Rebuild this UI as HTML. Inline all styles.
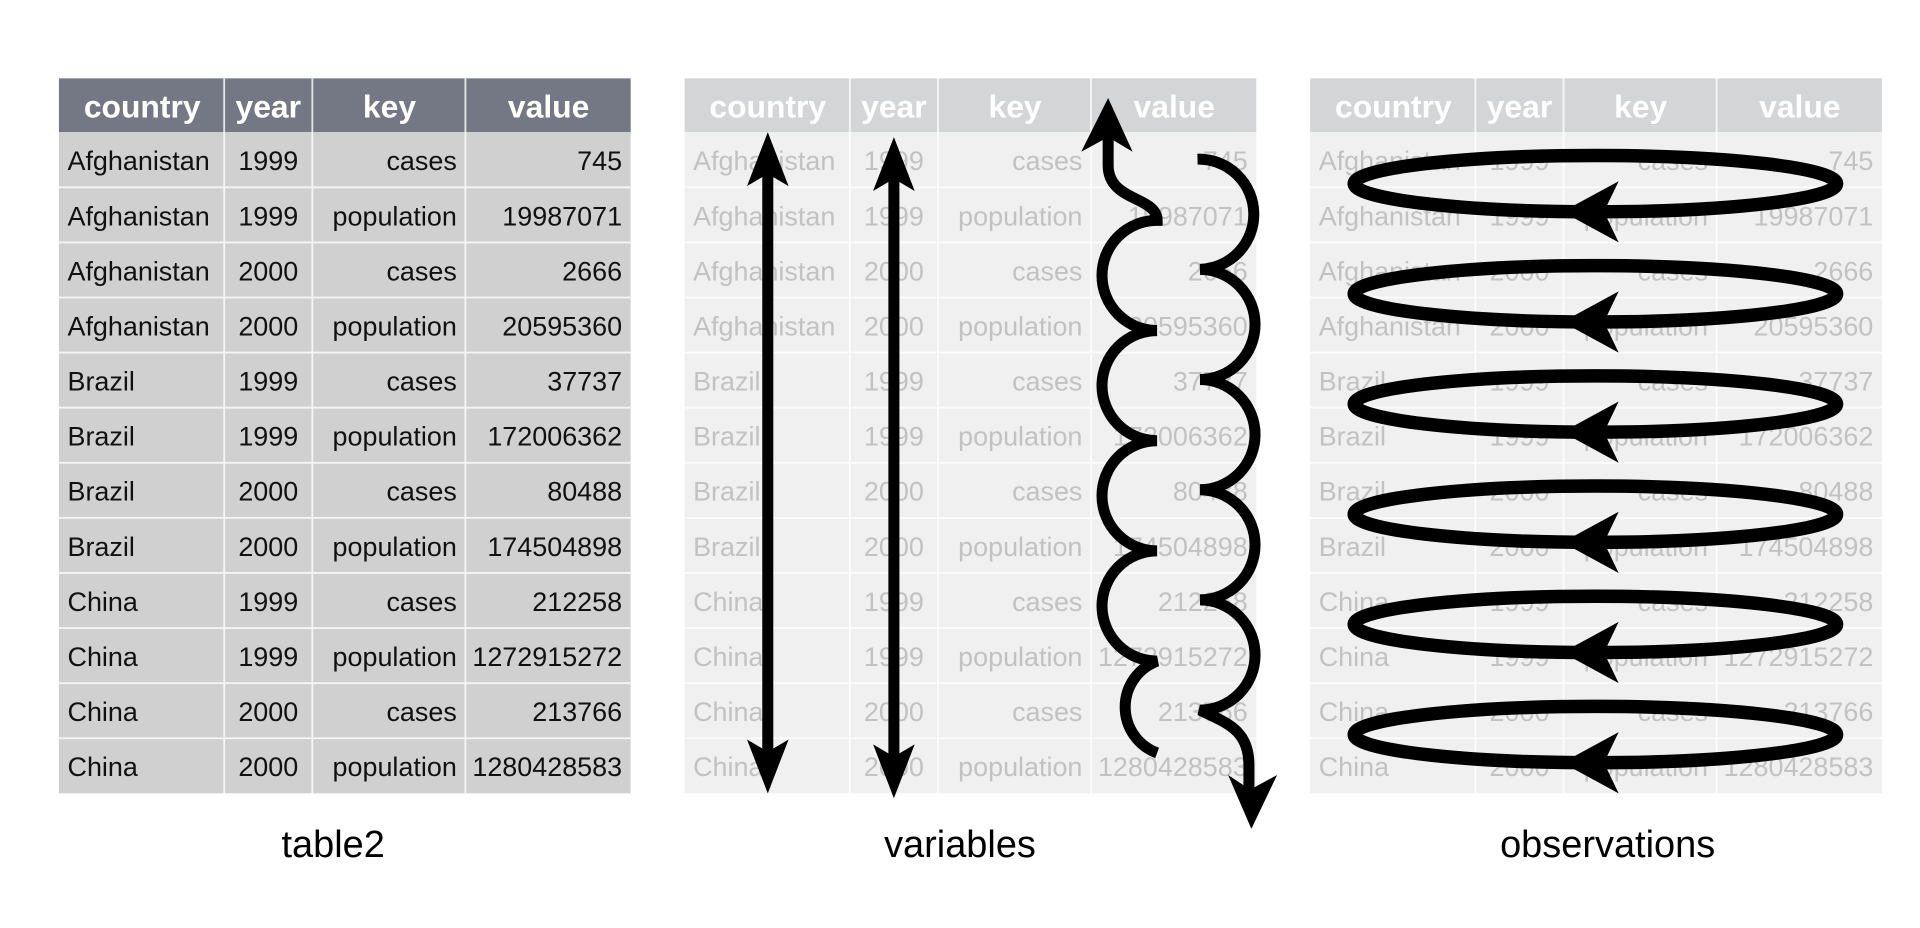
<!DOCTYPE html>
<html><head><meta charset="utf-8"><style>
html,body{margin:0;padding:0;background:#fff;width:1920px;height:928px;overflow:hidden}
svg{display:block}
text{font-family:"Liberation Sans",sans-serif}
</style></head><body>
<svg width="1920" height="928" viewBox="0 0 1568 758" xmlns="http://www.w3.org/2000/svg">
<rect x="48" y="64" width="467" height="44" fill="#737884"/>
<rect x="48" y="108" width="467" height="540" fill="#d0d0d0"/>
<rect x="559" y="64" width="467" height="44" fill="#d4d5d7"/>
<rect x="559" y="108" width="467" height="540" fill="#eff0ef"/>
<rect x="1070" y="64" width="467" height="44" fill="#d4d5d7"/>
<rect x="1070" y="108" width="467" height="540" fill="#eff0ef"/>
<g stroke="#ffffff" stroke-width="1.5" opacity="0.8">
<path d="M183,64V648M255,64V648M380,64V648M694,64V648M766,64V648M891,64V648M1205,64V648M1277,64V648M1402,64V648"/>
<path d="M48,153H515M48,198H515M48,243H515M48,288H515M48,333H515M48,378H515M48,423H515M48,468H515M48,513H515M48,558H515M48,603H515"/>
<path d="M559,153H1026M559,198H1026M559,243H1026M559,288H1026M559,333H1026M559,378H1026M559,423H1026M559,468H1026M559,513H1026M559,558H1026M559,603H1026"/>
<path d="M1070,153H1537M1070,198H1537M1070,243H1537M1070,288H1537M1070,333H1537M1070,378H1537M1070,423H1537M1070,468H1537M1070,513H1537M1070,558H1537M1070,603H1537"/>
</g>
<g font-size="26" font-weight="bold" fill="#fff" text-anchor="middle">
<text x="116" y="96">country</text><text x="219" y="96">year</text><text x="318" y="96">key</text><text x="448" y="96">value</text>
<text x="627" y="96">country</text><text x="730" y="96">year</text><text x="829" y="96">key</text><text x="959" y="96">value</text>
<text x="1138" y="96">country</text><text x="1241" y="96">year</text><text x="1340" y="96">key</text><text x="1470" y="96">value</text>
</g>
<g font-size="22" fill="#111">
<text x="55" y="139">Afghanistan</text><text x="55" y="184">Afghanistan</text><text x="55" y="229">Afghanistan</text><text x="55" y="274">Afghanistan</text>
<text x="55" y="319">Brazil</text><text x="55" y="364">Brazil</text><text x="55" y="409">Brazil</text><text x="55" y="454">Brazil</text>
<text x="55" y="499">China</text><text x="55" y="544">China</text><text x="55" y="589">China</text><text x="55" y="634">China</text>
<g text-anchor="middle"><text x="219" y="139">1999</text><text x="219" y="184">1999</text><text x="219" y="229">2000</text><text x="219" y="274">2000</text><text x="219" y="319">1999</text><text x="219" y="364">1999</text><text x="219" y="409">2000</text><text x="219" y="454">2000</text><text x="219" y="499">1999</text><text x="219" y="544">1999</text><text x="219" y="589">2000</text><text x="219" y="634">2000</text></g>
<g text-anchor="end"><text x="373" y="139">cases</text><text x="373" y="184">population</text><text x="373" y="229">cases</text><text x="373" y="274">population</text><text x="373" y="319">cases</text><text x="373" y="364">population</text><text x="373" y="409">cases</text><text x="373" y="454">population</text><text x="373" y="499">cases</text><text x="373" y="544">population</text><text x="373" y="589">cases</text><text x="373" y="634">population</text>
<text x="508" y="139">745</text><text x="508" y="184">19987071</text><text x="508" y="229">2666</text><text x="508" y="274">20595360</text><text x="508" y="319">37737</text><text x="508" y="364">172006362</text><text x="508" y="409">80488</text><text x="508" y="454">174504898</text><text x="508" y="499">212258</text><text x="508" y="544">1272915272</text><text x="508" y="589">213766</text><text x="508" y="634">1280428583</text></g>
</g>
<g font-size="22" fill="#c2c2c2">
<g transform="translate(511,0)">
<text x="55" y="139">Afghanistan</text><text x="55" y="184">Afghanistan</text><text x="55" y="229">Afghanistan</text><text x="55" y="274">Afghanistan</text>
<text x="55" y="319">Brazil</text><text x="55" y="364">Brazil</text><text x="55" y="409">Brazil</text><text x="55" y="454">Brazil</text>
<text x="55" y="499">China</text><text x="55" y="544">China</text><text x="55" y="589">China</text><text x="55" y="634">China</text>
<g text-anchor="middle"><text x="219" y="139">1999</text><text x="219" y="184">1999</text><text x="219" y="229">2000</text><text x="219" y="274">2000</text><text x="219" y="319">1999</text><text x="219" y="364">1999</text><text x="219" y="409">2000</text><text x="219" y="454">2000</text><text x="219" y="499">1999</text><text x="219" y="544">1999</text><text x="219" y="589">2000</text><text x="219" y="634">2000</text></g>
<g text-anchor="end"><text x="373" y="139">cases</text><text x="373" y="184">population</text><text x="373" y="229">cases</text><text x="373" y="274">population</text><text x="373" y="319">cases</text><text x="373" y="364">population</text><text x="373" y="409">cases</text><text x="373" y="454">population</text><text x="373" y="499">cases</text><text x="373" y="544">population</text><text x="373" y="589">cases</text><text x="373" y="634">population</text>
<text x="508" y="139">745</text><text x="508" y="184">19987071</text><text x="508" y="229">2666</text><text x="508" y="274">20595360</text><text x="508" y="319">37737</text><text x="508" y="364">172006362</text><text x="508" y="409">80488</text><text x="508" y="454">174504898</text><text x="508" y="499">212258</text><text x="508" y="544">1272915272</text><text x="508" y="589">213766</text><text x="508" y="634">1280428583</text></g>
</g>
<g transform="translate(1022,0)">
<text x="55" y="139">Afghanistan</text><text x="55" y="184">Afghanistan</text><text x="55" y="229">Afghanistan</text><text x="55" y="274">Afghanistan</text>
<text x="55" y="319">Brazil</text><text x="55" y="364">Brazil</text><text x="55" y="409">Brazil</text><text x="55" y="454">Brazil</text>
<text x="55" y="499">China</text><text x="55" y="544">China</text><text x="55" y="589">China</text><text x="55" y="634">China</text>
<g text-anchor="middle"><text x="219" y="139">1999</text><text x="219" y="184">1999</text><text x="219" y="229">2000</text><text x="219" y="274">2000</text><text x="219" y="319">1999</text><text x="219" y="364">1999</text><text x="219" y="409">2000</text><text x="219" y="454">2000</text><text x="219" y="499">1999</text><text x="219" y="544">1999</text><text x="219" y="589">2000</text><text x="219" y="634">2000</text></g>
<g text-anchor="end"><text x="373" y="139">cases</text><text x="373" y="184">population</text><text x="373" y="229">cases</text><text x="373" y="274">population</text><text x="373" y="319">cases</text><text x="373" y="364">population</text><text x="373" y="409">cases</text><text x="373" y="454">population</text><text x="373" y="499">cases</text><text x="373" y="544">population</text><text x="373" y="589">cases</text><text x="373" y="634">population</text>
<text x="508" y="139">745</text><text x="508" y="184">19987071</text><text x="508" y="229">2666</text><text x="508" y="274">20595360</text><text x="508" y="319">37737</text><text x="508" y="364">172006362</text><text x="508" y="409">80488</text><text x="508" y="454">174504898</text><text x="508" y="499">212258</text><text x="508" y="544">1272915272</text><text x="508" y="589">213766</text><text x="508" y="634">1280428583</text></g>
</g>
</g>
<g stroke="#000" stroke-width="9" fill="none">
<path d="M627,135V620"/><path d="M730,140V625"/>
<path d="M905,112V135C905,165 945,160 945,180A45,45 0 0 0 945,270A45,45 0 0 0 945,360A45,45 0 0 0 945,450A45,45 0 0 0 945,540A40,40 0 0 0 945,615"/>
<path d="M978,130A45,45 0 0 1 980,220A45,45 0 0 1 980,310A45,45 0 0 1 980,400A45,45 0 0 1 980,490A45,45 0 0 1 980,580C1000,590 1020,595 1020,625V645"/>
</g>
<g fill="#000">
<path d="M627,108L610,152L627,142L644,152Z"/><path d="M627,648L610,604L627,614L644,604Z"/>
<path d="M730,112L713,156L730,146L747,156Z"/><path d="M730,652L713,608L730,618L747,608Z"/>
<path d="M905,80L883,124L905,112L925,124Z"/><path d="M1022,677L1003,633L1021,645L1043,633Z"/>
</g>
<g stroke="#000" stroke-width="11" fill="none">
<ellipse cx="1303" cy="150" rx="197" ry="23"/>
<ellipse cx="1303" cy="240" rx="197" ry="23"/>
<ellipse cx="1303" cy="330" rx="197" ry="23"/>
<ellipse cx="1303" cy="420" rx="197" ry="23"/>
<ellipse cx="1303" cy="510" rx="197" ry="23"/>
<ellipse cx="1303" cy="600" rx="197" ry="23"/>
</g>
<g fill="#000">
<path d="M1276,173L1322,148L1310,173L1322,198Z"/>
<path d="M1276,263L1322,238L1310,263L1322,288Z"/>
<path d="M1276,353L1322,328L1310,353L1322,378Z"/>
<path d="M1276,443L1322,418L1310,443L1322,468Z"/>
<path d="M1276,533L1322,508L1310,533L1322,558Z"/>
<path d="M1276,623L1322,598L1310,623L1322,648Z"/>
</g>
<g font-size="31" fill="#000" text-anchor="middle">
<text x="272" y="700">table2</text><text x="784" y="700">variables</text><text x="1313" y="700">observations</text>
</g>
</svg>
</body></html>
